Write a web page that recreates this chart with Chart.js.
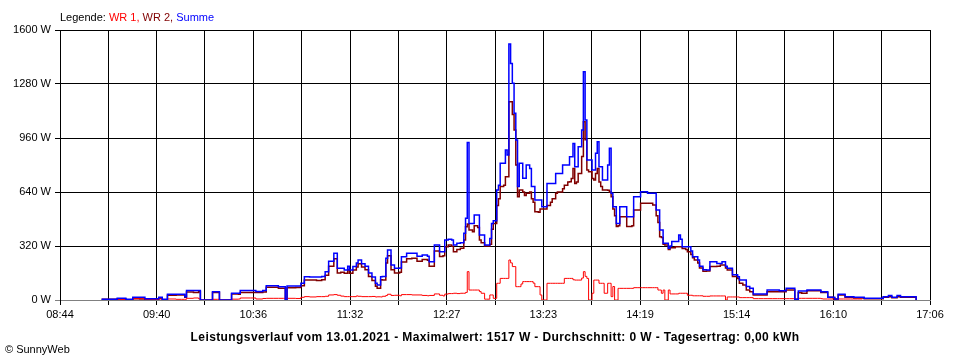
<!DOCTYPE html>
<html><head><meta charset="utf-8">
<script src="https://cdn.jsdelivr.net/npm/chart.js@4.4.1/dist/chart.umd.min.js"></script>
<style>
html,body{margin:0;padding:0;background:#fff;}
#wrap{position:relative;width:960px;height:360px;overflow:hidden;background:#fff;}
canvas{position:absolute;left:0;top:0;}
.t{position:absolute;font-family:"Liberation Sans",Arial,sans-serif;font-size:11px;white-space:nowrap;line-height:12px;color:#000;}
</style></head><body>
<div id="wrap">
<canvas id="c" width="960" height="360"></canvas>
<div class="t" id="legend" style="left:60px;top:11px;">Legende: <span style="color:#ff0000">WR 1,</span> <span style="color:#800000">WR 2,</span> <span style="color:#0000ff">Summe</span></div>
<div class="t" id="title" style="left:60px;width:870px;top:331px;text-align:center;font-weight:bold;font-size:12px;letter-spacing:0.4px;">Leistungsverlauf vom 13.01.2021 - Maximalwert: 1517 W - Durchschnitt: 0 W - Tagesertrag: 0,00 kWh</div>
<div class="t" id="copy" style="left:5px;top:343px;">© SunnyWeb</div>
</div>
<script>
const times = ["09:08","09:14","09:17","09:22","09:26","09:30","09:33","09:39","09:41","09:43",
"09:46","09:51","09:54","09:56","09:57","10:01","10:04","10:05","10:09","10:12",
"10:15","10:16","10:21","10:23","10:27","10:28","10:34","10:37","10:41","10:43",
"10:47","10:50","10:53","10:54","10:55","11:00","11:03","11:05","11:08","11:12",
"11:15","11:17","11:19","11:22","11:24","11:26","11:28","11:30","11:31","11:33",
"11:35","11:36","11:38","11:40","11:42","11:44","11:46","11:47","11:49","11:50",
"11:52","11:53","11:55","11:57","12:00","12:01","12:04","12:07","12:10","12:13",
"12:16","12:17","12:20","12:22","12:23","12:25","12:26","12:28","12:30","12:31",
"12:33","12:35","12:37","12:38","12:39","12:40","12:42","12:43","12:45","12:46",
"12:47","12:49","12:50","12:52","12:53","12:54","12:56","12:57","12:58","13:00",
"13:01","13:02","13:03","13:04","13:05","13:06","13:07","13:08","13:09","13:10",
"13:11","13:12","13:13","13:15","13:16","13:17","13:18","13:20","13:21","13:22",
"13:24","13:25","13:27","13:28","13:30","13:31","13:33","13:34","13:35","13:37",
"13:38","13:39","13:40","13:41","13:42","13:43","13:45","13:46","13:47","13:48",
"13:49","13:50","13:51","13:52","13:53","13:54","13:55","13:56","13:57","13:58",
"14:00","14:01","14:02","14:03","14:04","14:05","14:06","14:07","14:09","14:10",
"14:11","14:13","14:14","14:15","14:17","14:19","14:20","14:22","14:23","14:26",
"14:27","14:28","14:29","14:30","14:31","14:32","14:33","14:35","14:36","14:37",
"14:39","14:41","14:42","14:43","14:45","14:46","14:48","14:49","14:50","14:52",
"14:53","14:55","14:57","14:59","15:01","15:02","15:03","15:05","15:06","15:07",
"15:08","15:09","15:11","15:12","15:15","15:16","15:18","15:20","15:22","15:24",
"15:27","15:30","15:32","15:35","15:38","15:39","15:42","15:43","15:45","15:47",
"15:48","15:49","15:50","15:52","15:54","15:55","15:58","16:01","16:03","16:04",
"16:07","16:10","16:11","16:13","16:16","16:17","16:20","16:22","16:24","16:27",
"16:28","16:31","16:37","16:39","16:42","16:44","16:47","16:49","16:52","16:54",
"16:57","16:58"];

const summe = [4,4,10,5,16,16,8,8,16,4,
34,34,34,20,57,57,57,0,0,49,
49,0,0,40,40,57,57,50,57,85,
85,79,79,0,83,83,100,138,136,136,
140,168,230,277,188,188,178,200,178,198,
220,237,215,200,160,136,100,89,138,140,
247,296,207,188,190,257,277,277,260,267,
260,227,326,326,286,286,355,360,355,326,
336,340,395,484,934,454,454,504,504,385,
385,326,326,365,454,470,652,680,810,810,
889,860,1517,1402,1284,1106,948,672,810,810,
721,721,800,780,672,672,593,593,593,553,
553,691,691,691,750,750,750,800,800,800,
849,849,928,790,790,908,1007,1353,1066,830,
830,830,770,770,869,938,790,790,711,711,
800,899,632,553,553,454,454,553,553,553,
494,494,494,612,612,642,642,642,632,632,
632,533,533,415,415,336,336,306,320,346,
346,385,360,316,316,316,290,257,257,237,
200,180,178,227,227,227,217,217,227,227,
200,188,188,150,138,118,118,80,69,36,
36,36,59,59,59,55,55,69,69,69,
4,4,53,53,53,59,59,59,49,49,
16,16,6,34,34,20,20,16,16,16,
10,10,10,20,26,16,26,20,20,20,
20,0];

const wr2 = [4,4,6,2,8,6,4,4,10,2,
28,30,30,16,47,45,50,0,0,45,
45,0,0,35,34,45,45,44,48,75,
75,69,69,0,73,74,84,118,118,116,
120,146,200,245,160,165,158,180,158,178,
196,215,195,180,140,115,82,70,120,118,
220,262,180,160,165,225,245,247,230,240,
235,200,290,290,258,262,315,326,318,286,
300,306,355,434,450,415,405,440,430,355,
340,320,320,330,420,454,560,600,672,680,
731,731,1175,1175,1100,1007,800,612,652,652,
640,620,632,640,600,580,523,520,540,540,
540,560,580,600,632,640,640,660,680,700,
701,720,780,691,700,750,850,1057,950,770,
760,760,720,711,750,780,700,672,652,652,
650,640,612,540,500,435,440,494,494,494,
435,435,440,533,533,573,573,573,573,563,
563,500,460,375,370,330,326,300,310,310,
316,316,316,305,300,286,270,250,237,220,
190,170,172,198,198,198,200,207,207,207,
190,178,178,140,128,100,89,60,49,30,
30,30,49,49,49,49,49,59,59,59,
4,4,43,40,40,55,55,55,45,45,
16,14,4,30,30,16,16,12,12,12,
8,8,8,16,20,14,20,16,16,16,
16,0];

const wr1 = [null,null,4,3,8,10,4,4,6,2,
6,4,4,4,10,12,7,0,0,4,
4,0,0,5,6,12,12,6,9,10,
10,10,10,10,10,9,16,20,18,20,
20,22,30,32,28,23,20,20,20,20,
24,22,20,20,20,21,18,19,18,22,
27,34,27,28,25,32,32,30,30,27,
25,27,36,36,28,24,35,38,38,40,
38,40,40,45,168,59,59,59,59,50,
40,5,5,30,30,10,99,99,128,128,
128,128,237,220,198,198,79,79,79,95,
109,109,109,109,109,100,79,79,30,0,
0,99,99,99,99,99,99,99,128,128,
128,128,120,118,118,118,130,168,140,128,
0,0,40,118,118,118,99,99,99,40,
99,99,20,80,0,0,69,69,69,69,
69,69,69,73,73,73,73,73,73,73,
73,73,59,59,40,59,0,59,36,36,
36,40,40,40,40,28,28,25,25,25,
25,22,22,24,24,24,24,24,24,24,
0,18,18,18,18,14,14,14,14,8,
8,8,8,8,8,8,8,8,8,8,
0,0,10,10,10,10,10,10,8,6,
6,6,6,6,6,6,6,6,6,6,
null,null,null,null,null,null,null,null,null,null,
null,null];

const yTicks = [0, 320, 640, 960, 1280, 1600];
const xTickLabels = ["08:44","09:40","10:36","11:32","12:27","13:23","14:19","15:14","16:10","17:06"];
const xStart = "08:44", xEnd = "17:06";

const FONT = '"Liberation Sans", Arial, sans-serif';
function toMin(s){ const p = s.split(':').map(Number); return p[0]*60 + p[1]; }
const xs = times.map(toMin);
const mk = arr => arr.map((v, i) => ({x: xs[i], y: v}));

new Chart(document.getElementById('c').getContext('2d'), {
  type: 'line',
  data: { datasets: [
    {label: 'WR 1', data: mk(wr1), borderColor: '#ff0000', borderWidth: 1, order: 1},
    {label: 'WR 2', data: mk(wr2), borderColor: '#800000', borderWidth: 1.5, order: 2},
    {label: 'Summe', data: mk(summe), borderColor: '#0000ff', borderWidth: 1.5, order: 0}
  ]},
  options: {
    responsive: false, animation: false, events: [],
    layout: {padding: {top: 30, right: 30, left: 0, bottom: 0}},
    elements: {point: {radius: 0}, line: {stepped: true, tension: 0, fill: false, borderJoinStyle: 'miter'}},
    plugins: {legend: {display: false}, tooltip: {enabled: false}, title: {display: false}},
    scales: {
      x: {
        type: 'linear', min: toMin(xStart), max: toMin(xEnd),
        afterBuildTicks: s => {
          const n = (xTickLabels.length - 1) * 2;
          const arr = [];
          for (let i = 0; i <= n; i++) arr.push({value: s.min + i * (s.max - s.min) / n});
          s.ticks = arr;
        },
        afterFit: s => { s.height = 60; },
        ticks: {autoSkip: false, maxRotation: 0, minRotation: 0, padding: 3, color: '#000',
          font: {family: FONT, size: 11},
          callback: (v, i) => (i % 2 === 0 ? xTickLabels[i / 2] : '')},
        grid: {color: '#000', lineWidth: 1, tickLength: 5, drawTicks: true},
        border: {display: true, color: '#808080'}
      },
      y: {
        min: 0, max: 1600,
        afterBuildTicks: s => { s.ticks = yTicks.map(v => ({value: v})); },
        afterFit: s => { s.width = 60; },
        ticks: {padding: 4, color: '#000', font: {family: FONT, size: 11}, callback: v => v + ' W'},
        grid: {color: c => (c.tick && c.tick.value === 0 ? '#808080' : '#000'), lineWidth: 1, tickLength: 5},
        border: {display: true, color: '#000'}
      }
    }
  }
});
</script>
</body></html>
